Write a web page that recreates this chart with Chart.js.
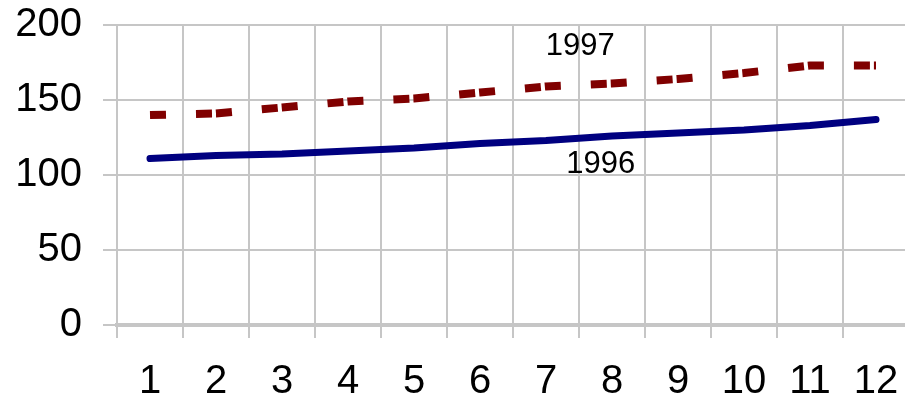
<!DOCTYPE html>
<html>
<head>
<meta charset="utf-8">
<script src="https://cdn.jsdelivr.net/npm/chart.js@4.4.0/dist/chart.umd.min.js"></script>
<style>
  html, body { margin: 0; padding: 0; background: #fff; overflow: hidden; }
  #wrap { width: 910px; height: 399px; }
</style>
</head>
<body>
<div id="wrap"><canvas id="chart" width="910" height="399"></canvas></div>
<script>
const months = ['1', '2', '3', '4', '5', '6', '7', '8', '9', '10', '11', '12'];
const values1996 = [111, 113, 114, 116, 118, 121, 123, 126, 128, 130, 133, 137];
const values1997 = [140, 141, 145, 149, 151, 155, 159, 161, 164, 168, 173, 173];
const yTicks = [0, 50, 100, 150, 200];
const seriesNames = ['1996', '1997'];
// where the series names sit, in data units (category index, value)
const nameSpots = [[6.83, 107], [6.52, 186]];

const gray = '#c6c6c6';
const family = '"Liberation Sans", Arial, Helvetica, sans-serif';

// writes 1996 / 1997 next to the lines
const seriesNamesPlugin = {
    id: 'seriesNames',
    afterDatasetsDraw(chart) {
        const { ctx, scales: { x, y } } = chart;
        ctx.save();
        ctx.font = '31px ' + family;
        ctx.fillStyle = '#000';
        ctx.textAlign = 'center';
        ctx.textBaseline = 'middle';
        seriesNames.forEach((name, i) => {
            const [xi, yv] = nameSpots[i];
            ctx.fillText(name, x.getPixelForValue(xi), y.getPixelForValue(yv));
        });
        ctx.restore();
    }
};

new Chart(document.getElementById('chart'), {
    type: 'line',
    data: {
        labels: months,
        datasets: [
            {
                label: seriesNames[0],
                data: values1996,
                borderColor: '#000080',
                borderWidth: 7,
                borderCapStyle: 'round',
                borderJoinStyle: 'round',
                pointRadius: 0,
                tension: 0,
                fill: false
            },
            {
                label: seriesNames[1],
                data: values1997,
                borderColor: '#800000',
                borderWidth: 8,
                borderDash: [16, 30, 16, 4],
                borderCapStyle: 'butt',
                pointRadius: 0,
                tension: 0,
                fill: false
            }
        ]
    },
    options: {
        responsive: false,
        animation: false,
        layout: { padding: { top: 25, right: 1, left: 0, bottom: 0 } },
        plugins: {
            legend: { display: false },
            tooltip: { enabled: false }
        },
        scales: {
            x: {
                offset: true,
                grid: { offset: true, color: gray, lineWidth: 2, tickLength: 13 },
                border: { color: gray, width: 4 },
                ticks: {
                    color: '#000',
                    font: { size: 40, family: family },
                    padding: 20,
                    maxRotation: 0,
                    autoSkip: false
                },
                afterFit(scale) {
                    scale.height = 74;
                    scale.paddingLeft = 0;
                    scale.paddingRight = 0;
                }
            },
            y: {
                min: 0,
                max: 200,
                afterBuildTicks(scale) { scale.ticks = yTicks.map(v => ({ value: v })); },
                grid: { color: gray, lineWidth: 2, tickLength: 14 },
                border: { display: false },
                ticks: {
                    color: '#000',
                    font: { size: 40, family: family },
                    padding: 21
                },
                afterFit(scale) {
                    scale.width = 117;
                    scale.paddingTop = 0;
                    scale.paddingBottom = 0;
                }
            }
        }
    },
    plugins: [seriesNamesPlugin]
});
</script>
</body>
</html>
